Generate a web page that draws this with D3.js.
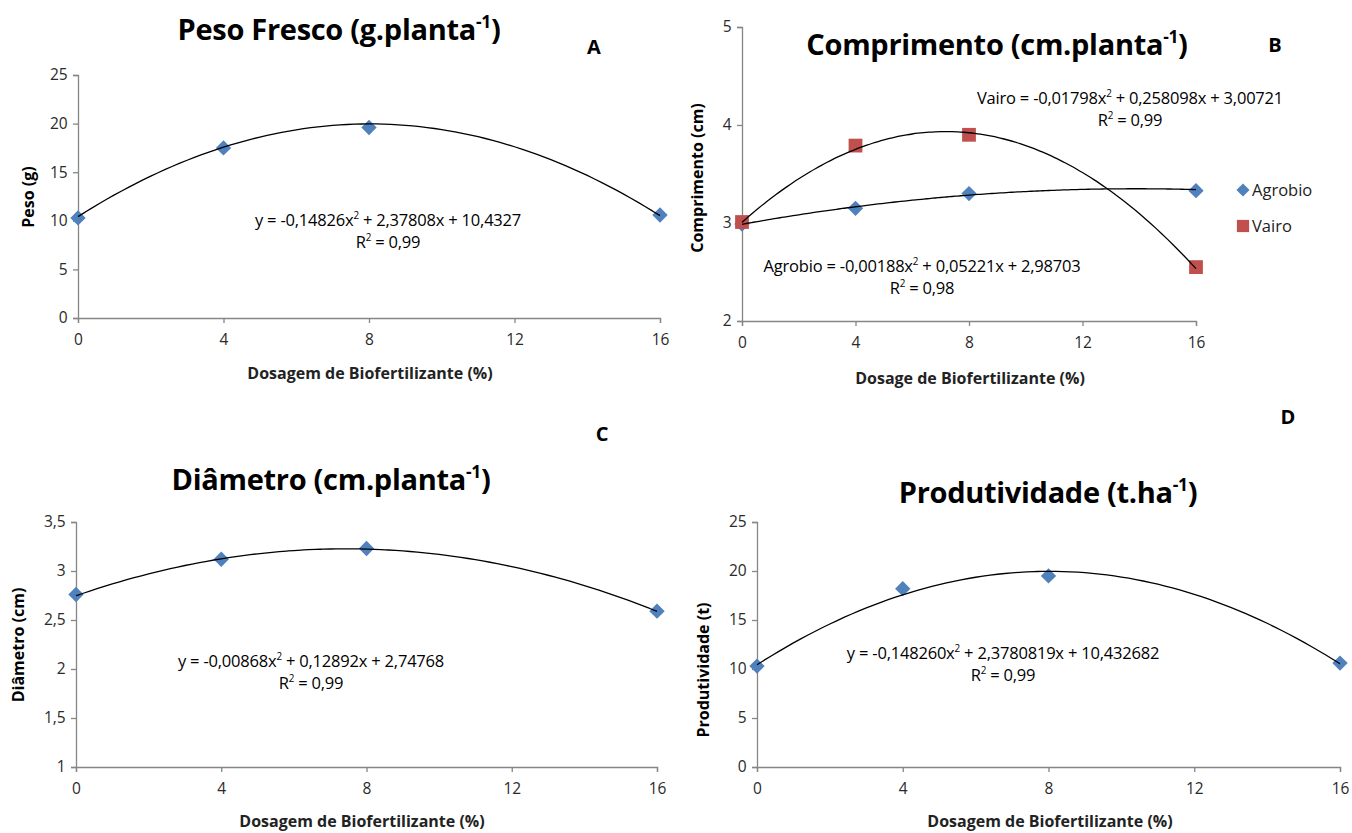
<!DOCTYPE html>
<html>
<head>
<meta charset="utf-8">
<script src="https://cdn.jsdelivr.net/npm/d3@7"></script>
<style>
  body { margin: 0; background: #fff; }
  svg { display: block; font-family: "Open Sans", "Lato", sans-serif; }
</style>
</head>
<body>
<svg id="chart" width="1352" height="833"></svg>
<script>
// Dosagens (x)
const doses = [0, 4, 8, 16];
const xTicks = [0, 4, 8, 12, 16];

// A - Peso fresco
const pesoValues = [10.3, 17.5, 19.6, 10.6];
const pesoCoef = [-0.14826, 2.37808, 10.4327];
const pesoTicks = [0, 5, 10, 15, 20, 25];

// B - Comprimento
const agrobioValues = [2.99, 3.15, 3.30, 3.33];
const vairoValues = [3.01, 3.79, 3.90, 2.55];
const agrobioCoef = [-0.00188, 0.05221, 2.98703];
const vairoCoef = [-0.01798, 0.258098, 3.00721];
const comprTicks = [2, 3, 4, 5];

// C - Diâmetro
const diamValues = [2.76, 3.12, 3.23, 2.59];
const diamCoef = [-0.00868, 0.12892, 2.74768];
const diamTicks = [1, 1.5, 2, 2.5, 3, 3.5];

// D - Produtividade
const prodValues = [10.3, 18.2, 19.5, 10.6];
const prodCoef = [-0.148260, 2.3780819, 10.432682];
const prodTicks = [0, 5, 10, 15, 20, 25];

const svg = d3.select("#chart");
const fmt = d => String(d).replace(".", ",");
const BLUE = "#4F81BD", RED = "#C0504D", AXIS = "#868686";

function poly(c) { return x => c[0] * x * x + c[1] * x + c[2]; }

// texto com expoente (tspan)
function supText(g, x, y, parts, opts) {
  const t = g.append("text")
    .attr("x", x).attr("y", y)
    .attr("text-anchor", opts.anchor || "middle")
    .style("font-size", opts.size + "px")
    .style("font-weight", opts.weight || "normal")
    .style("letter-spacing", opts.spacing || "0px")
    .style("fill", "#000");
  const rise = opts.size * 0.4;
  let back = 0;
  parts.forEach(p => {
    if (typeof p === "object") {
      t.append("tspan").attr("dy", -rise)
        .style("font-size", (opts.size * 0.6) + "px").text(p.sup);
      back = rise;
    } else {
      t.append("tspan").attr("dy", back).text(p);
      back = 0;
    }
  });
  return t;
}

function panel(cfg) {
  const g = svg.append("g");
  const x = d3.scaleLinear().domain([0, 16]).range([cfg.x0, cfg.x1]);
  const y = d3.scaleLinear().domain(cfg.yDomain).range([cfg.y0, cfg.y1]);

  // eixos
  const xa = g.append("g").attr("transform", `translate(0,${cfg.y0})`)
    .call(d3.axisBottom(x).tickValues(xTicks).tickSize(5).tickFormat(d => d));
  const ya = g.append("g").attr("transform", `translate(${cfg.x0},0)`)
    .call(d3.axisLeft(y).tickValues(cfg.yTicks).tickSize(5).tickFormat(fmt));
  [xa, ya].forEach(a => {
    a.select(".domain").attr("stroke", AXIS).attr("stroke-width", 1.3);
    a.selectAll(".tick line").attr("stroke", AXIS).attr("stroke-width", 1.3);
    a.selectAll(".tick text").style("font-size", "15.5px").style("fill", "#2a2a2a")
      .style("font-family", "'Open Sans', sans-serif");
  });
  xa.selectAll(".tick text").attr("dy", "1.2em");
  ya.selectAll(".tick text").attr("dx", "-0.15em");

  // marcadores
  cfg.series.forEach(s => {
    const sym = d3.symbol().type(s.shape === "square" ? d3.symbolSquare : d3.symbolDiamond2)
      .size(s.shape === "square" ? 190 : 150);
    g.selectAll(null).data(s.values).join("path")
      .attr("d", sym)
      .attr("transform", (d, i) => `translate(${x(doses[i])},${y(d)})`)
      .attr("fill", s.color);
  });

  // linhas de tendência
  cfg.series.forEach(s => {
    const f = poly(s.coef);
    const pts = d3.range(0, 16.01, 0.2);
    g.append("path").datum(pts)
      .attr("d", d3.line().x(d => x(d)).y(d => y(f(d))).curve(d3.curveBasis))
      .attr("fill", "none").attr("stroke", "#000").attr("stroke-width", 1.3);
  });

  // equações
  cfg.equations.forEach(e => {
    supText(g, e.x, e.y, e.parts, { size: 16.5, spacing: "-0.2px" });
    supText(g, e.x, e.y + 22, ["R", { sup: "2" }, " = " + e.r2], { size: 16.5, spacing: "-0.2px" });
  });

  // título e letra
  supText(g, cfg.titleX, cfg.titleY, [cfg.title, { sup: "-1" }, ")"],
    { size: 29, weight: "bold", spacing: "-0.3px" });
  g.append("text").attr("x", cfg.letterX).attr("y", cfg.letterY)
    .attr("text-anchor", "middle").style("font-size", "20px")
    .style("font-weight", "bold").text(cfg.letter);

  // rótulos dos eixos
  g.append("text").attr("x", cfg.xLabelX).attr("y", cfg.xLabelY)
    .attr("text-anchor", "middle").style("font-size", "16px")
    .style("font-weight", "bold").style("fill", "#222").text(cfg.xLabel);
  g.append("text")
    .attr("transform", `translate(${cfg.yLabelX},${cfg.yLabelY}) rotate(-90)`)
    .attr("text-anchor", "middle").style("font-size", "16px")
    .style("font-weight", "bold").text(cfg.yLabel);
  return g;
}

panel({
  x0: 78, x1: 660, y0: 318, y1: 75, yDomain: [0, 25], yTicks: pesoTicks,
  series: [{ values: pesoValues, coef: pesoCoef, color: BLUE, shape: "diamond" }],
  equations: [{ x: 388, y: 226, r2: "0,99",
    parts: ["y = -0,14826x", { sup: "2" }, " + 2,37808x + 10,4327"] }],
  title: "Peso Fresco (g.planta", titleX: 339, titleY: 40, letter: "A", letterX: 594, letterY: 54,
  xLabel: "Dosagem de Biofertilizante  (%)", xLabelX: 370, xLabelY: 379,
  yLabel: "Peso (g)", yLabelX: 34, yLabelY: 197
});

const pB = panel({
  x0: 742, x1: 1196, y0: 321, y1: 27, yDomain: [2, 5], yTicks: comprTicks,
  series: [
    { values: agrobioValues, coef: agrobioCoef, color: BLUE, shape: "diamond" },
    { values: vairoValues, coef: vairoCoef, color: RED, shape: "square" }
  ],
  equations: [
    { x: 1130, y: 104, r2: "0,99", parts: ["Vairo = -0,01798x", { sup: "2" }, " + 0,258098x + 3,00721"] },
    { x: 922, y: 272, r2: "0,98", parts: ["Agrobio = -0,00188x", { sup: "2" }, " + 0,05221x + 2,98703"] }
  ],
  title: "Comprimento (cm.planta", titleX: 997, titleY: 55, letter: "B", letterX: 1275, letterY: 52,
  xLabel: "Dosage  de Biofertilizante  (%)", xLabelX: 970, xLabelY: 384,
  yLabel: "Comprimento (cm)", yLabelX: 703, yLabelY: 178
});

// legenda do painel B
const legend = [
  { name: "Agrobio", color: BLUE, shape: d3.symbolDiamond2, size: 110, y: 190 },
  { name: "Vairo", color: RED, shape: d3.symbolSquare, size: 150, y: 226 }
];
legend.forEach(l => {
  pB.append("path").attr("d", d3.symbol().type(l.shape).size(l.size))
    .attr("transform", `translate(1243,${l.y})`).attr("fill", l.color);
  pB.append("text").attr("x", 1252).attr("y", l.y + 6)
    .style("font-size", "16.5px").style("fill", "#222").text(l.name);
});

panel({
  x0: 76, x1: 657, y0: 767, y1: 522, yDomain: [1, 3.5], yTicks: diamTicks,
  series: [{ values: diamValues, coef: diamCoef, color: BLUE, shape: "diamond" }],
  equations: [{ x: 311, y: 667, r2: "0,99",
    parts: ["y = -0,00868x", { sup: "2" }, " + 0,12892x + 2,74768"] }],
  title: "Diâmetro (cm.planta", titleX: 331, titleY: 490, letter: "C", letterX: 602, letterY: 441,
  xLabel: "Dosagem de Biofertilizante  (%)", xLabelX: 362, xLabelY: 827,
  yLabel: "Diâmetro (cm)", yLabelX: 24, yLabelY: 645
});

panel({
  x0: 757, x1: 1340, y0: 767, y1: 522, yDomain: [0, 25], yTicks: prodTicks,
  series: [{ values: prodValues, coef: prodCoef, color: BLUE, shape: "diamond" }],
  equations: [{ x: 1003, y: 659, r2: "0,99",
    parts: ["y = -0,148260x", { sup: "2" }, " + 2,3780819x + 10,432682"] }],
  title: "Produtividade (t.ha", titleX: 1048, titleY: 503, letter: "D", letterX: 1288, letterY: 424,
  xLabel: "Dosagem de Biofertilizante  (%)", xLabelX: 1050, xLabelY: 827,
  yLabel: "Produtividade  (t)", yLabelX: 709, yLabelY: 670
});
</script>
</body>
</html>
